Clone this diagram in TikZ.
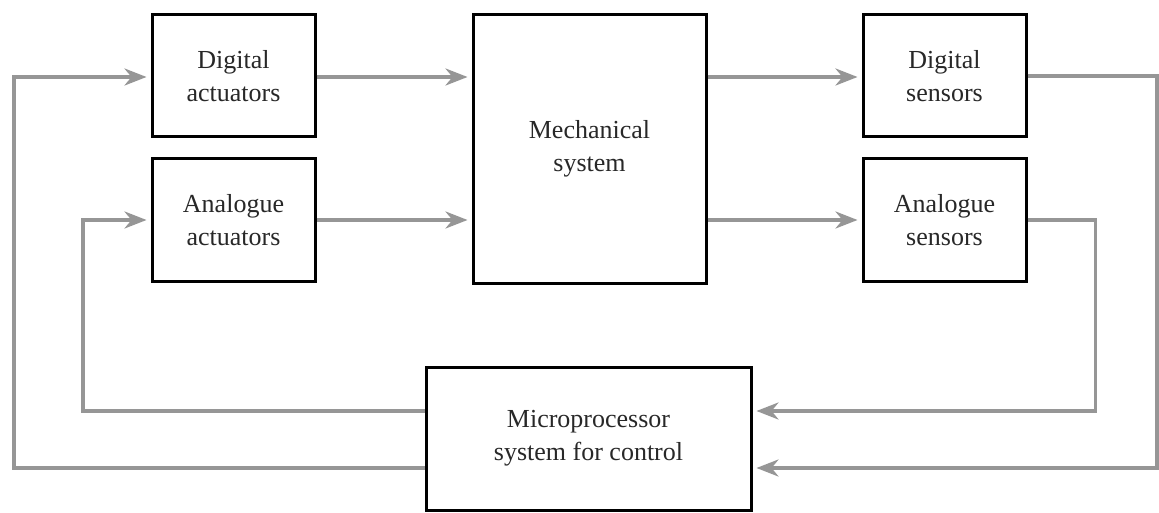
\documentclass[tikz,border=0pt]{standalone}
\usepackage{fontspec}
\setmainfont{Liberation Serif}
\usetikzlibrary{arrows.meta}
\definecolor{linegray}{RGB}{150,150,150}
\definecolor{txt}{RGB}{40,40,40}
\begin{document}
\begin{tikzpicture}[x=1pt,y=-1pt,
  box/.style={draw=black,line width=3pt,fill=white,align=center,text=txt,
    font=\fontsize{26}{33}\selectfont,inner sep=0pt},
  conn/.style={draw=linegray,line width=3.5pt},
  arr/.style={conn,-{Stealth[length=22pt,width=17pt,inset=7pt]},shorten >=4pt}]
\useasboundingbox (0,0) rectangle (1159,513);
\fill[white] (0,0) rectangle (1159,513);
\node[box,minimum width=163pt,minimum height=122pt] (da) at (233.5,76) {Digital\\actuators};
\node[box,minimum width=163pt,minimum height=122pt] (aa) at (233.5,220) {Analogue\\actuators};
\node[box,minimum width=233pt,minimum height=268pt] (mech) at (589.5,149) {Mechanical\\system};
\node[box,minimum width=163pt,minimum height=122pt] (ds) at (944.5,76) {Digital\\sensors};
\node[box,minimum width=163pt,minimum height=122pt] (as) at (944.5,220) {Analogue\\sensors};
\node[box,minimum width=325pt,minimum height=143pt] (micro) at (588.5,438.5) {Microprocessor\\system for control};
\coordinate (c1) at (1157,468);
\coordinate (c2) at (1095.5,411);
\coordinate (c3) at (83,411);
\coordinate (c4) at (14,468);
\draw[arr] (da.east |- 0,77) -- (mech.west |- 0,77);
\draw[arr] (aa.east) -- (mech.west |- aa.east);
\draw[arr] (mech.east |- 0,77) -- (ds.west |- 0,77);
\draw[arr] (mech.east |- as.west) -- (as.west);
\draw[arr] (ds.east) -| (c1) -- (micro.east |- c1);
\draw[arr] (as.east) -| (c2) -- (micro.east |- c2);
\draw[arr] (micro.west |- c3) -- (c3) |- (aa.west);
\draw[arr] (micro.west |- c4) -- (c4) |- (da.west |- 0,77);
\end{tikzpicture}
\end{document}
